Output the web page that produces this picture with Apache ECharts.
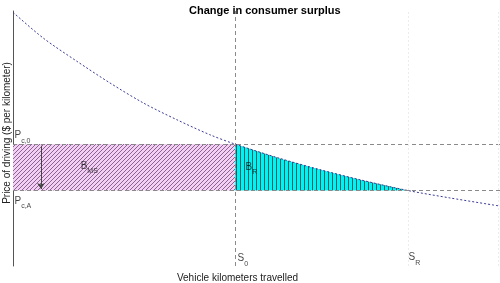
<!DOCTYPE html>
<html><head><meta charset="utf-8">
<script src="https://cdn.jsdelivr.net/npm/echarts@6/dist/echarts.min.js"></script>
<style>html,body{margin:0;padding:0;background:#fff}#c{width:500px;height:283px}</style>
</head><body><div id="c"></div>
<script>
// Demand curve (vehicle km vs price)
const curveX = [0, 6.2, 13.1, 19.9, 26.8, 33.6, 40.4, 45.6, 54.8, 63.0, 71.3, 81.1, 89.7, 100];
const curveY = [99.5, 89.4, 80.3, 71.8, 63.9, 57.4, 51.5, 47.8, 42.2, 37.8, 33.8, 29.6, 26.7, 23.5];
// Key quantities
const S0 = 45.6;      // initial vehicle km
const SR = 81.1;      // vehicle km after reduction
const P_C0 = 47.8;    // initial price
const P_CA = 29.6;    // reduced price
const arrowX = 5.75;  // position of the price-change arrow

const FONT = 'Liberation Sans, Arial, sans-serif';

function makePattern(w, h, bg, fg, px) {
  const c = document.createElement('canvas');
  c.width = w; c.height = h;
  const g = c.getContext('2d');
  g.fillStyle = bg; g.fillRect(0, 0, w, h);
  g.fillStyle = fg;
  px.forEach(p => g.fillRect(p[0], p[1], 1, 1));
  return c;
}
const hatch = makePattern(4, 4, '#f3d0f3', '#8c6494', [[3,0],[2,1],[1,2],[0,3]]);
const vlines = makePattern(4, 1, '#00f2f2', '#1d5f5f', [[0,0]]);

const curveData = curveX.map((x, i) => [x, curveY[i]]);
const areaPts = curveData.filter(p => p[0] >= S0 && p[0] <= SR);

function sub(main, s) { return '{m|' + main + '}{s|' + s + '}'; }
const rich = {
  m: { fontSize: 10, fontFamily: FONT, color: '#111', verticalAlign: 'top', lineHeight: 12 },
  s: { fontSize: 7, fontFamily: FONT, color: '#111', verticalAlign: 'bottom', lineHeight: 14 }
};

const labels = [
  { value: [0, P_C0], text: sub('P', 'c,0'), pos: [2, -6] },
  { value: [0, P_CA], text: sub('P', 'c,A'), pos: [2, 13] },
  { value: [14, (P_C0 + P_CA) / 2], text: sub('B', 'MS'), pos: [0, 1] },
  { value: [S0, (P_C0 + P_CA) / 2], text: sub('B', 'R'), pos: [11, 2] },
  { value: [S0, 0], text: sub('S', '0'), pos: [3, -5] },
  { value: [SR, 0], text: sub('S', 'R'), pos: [1, -6] }
];

const chart = echarts.init(document.getElementById('c'), null, { renderer: 'canvas' });
chart.setOption({
  animation: false,
  backgroundColor: '#fff',
  title: {
    text: 'Change in consumer surplus', left: 184, top: 0,
    textStyle: { fontSize: 11, fontWeight: 'bold', color: '#000', fontFamily: FONT }
  },
  grid: { left: 13, right: 0, top: 11, bottom: 17, containLabel: false, outerBoundsMode: 'none' },
  xAxis: {
    type: 'value', min: 0, max: 100,
    name: 'Vehicle kilometers travelled', nameLocation: 'middle', nameGap: 7,
    nameTextStyle: { fontSize: 10, color: '#222', fontFamily: FONT, padding: [0, 38, 0, 0] },
    axisLine: { show: false }, axisTick: { show: false }, axisLabel: { show: false }, splitLine: { show: false }
  },
  yAxis: {
    type: 'value', min: 0, max: 100,
    name: 'Price of driving ($ per kilometer)', nameLocation: 'middle', nameGap: 1, nameRotate: 90,
    nameTextStyle: { fontSize: 10, color: '#222', fontFamily: FONT, padding: [0, 0, 0, 11] },
    axisLine: { show: true, lineStyle: { color: '#555', width: 1 } },
    axisTick: { show: false }, axisLabel: { show: false }, splitLine: { show: false }
  },
  series: [
    {
      type: 'custom', name: 'B_MS', silent: true, z: 1,
      data: [[0, S0, P_CA, P_C0]],
      encode: { x: [0, 1], y: [2, 3] },
      renderItem: function (params, api) {
        const a = api.coord([api.value(0), api.value(3)]);
        const b = api.coord([api.value(1), api.value(2)]);
        return { type: 'rect', shape: { x: a[0], y: a[1], width: b[0] - a[0], height: b[1] - a[1] },
                 style: { fill: { image: hatch, repeat: 'repeat' } } };
      }
    },
    {
      type: 'custom', name: 'B_R', silent: true, z: 1,
      data: areaPts,
      encode: { x: 0, y: 1 },
      renderItem: function (params, api) {
        if (params.dataIndex !== 0) return null;
        const pts = areaPts.map(p => api.coord(p));
        pts.push(api.coord([SR, P_CA]));
        pts.push(api.coord([S0, P_CA]));
        return { type: 'polygon', shape: { points: pts },
                 style: { fill: { image: vlines, repeat: 'repeat' } } };
      }
    },
    {
      type: 'line', name: 'demand', data: curveData, smooth: 0.3, symbol: 'none', z: 3,
      lineStyle: { color: '#3c3c96', width: 1, type: [2, 2] },
      markLine: {
        silent: true, symbol: 'none', label: { show: false },
        lineStyle: { color: '#8a8a8a', width: 1, type: [4, 3] },
        data: [
          { xAxis: S0 },
          { yAxis: P_C0 },
          { yAxis: P_CA },
          { xAxis: SR, lineStyle: { color: '#ececec', type: [2, 2] } },
          { xAxis: 99.6, lineStyle: { color: '#ececec', type: [2, 2] } }
        ]
      }
    },
    {
      type: 'scatter', name: 'labels', symbolSize: 1, z: 4,
      itemStyle: { color: 'rgba(0,0,0,0)' },
      data: labels.map(l => ({
        value: l.value,
        label: { show: true, formatter: l.text, position: l.pos, align: 'left', verticalAlign: 'middle', rich: rich }
      })),
      markLine: {
        silent: true, symbol: ['none', 'arrow'], symbolSize: 6, label: { show: false },
        lineStyle: { color: '#444', width: 1, type: 'solid' },
        data: [[{ coord: [arrowX, P_C0 - 0.6] }, { coord: [arrowX, P_CA + 0.6] }]]
      }
    }
  ]
});
</script>
</body></html>
